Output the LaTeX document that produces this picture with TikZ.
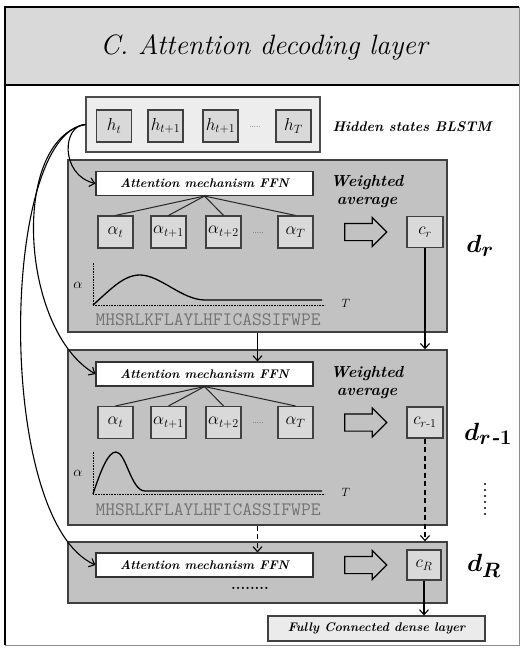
\documentclass[tikz,border=0pt]{standalone}
\usepackage{amsmath}
\usepackage{tikz}
\usetikzlibrary{arrows.meta,shapes.arrows,positioning}

\begin{document}
\begin{tikzpicture}[x=1pt,y=-1pt,>={Straight Barb[length=5pt,width=9pt]},
  ttl/.style={font=\fontsize{28}{32}\selectfont\itshape},
  lbl/.style={font=\fontsize{14}{17}\selectfont\bfseries\itshape},
  wlbl/.style={font=\fontsize{16}{18}\selectfont\bfseries\itshape,align=center},
  dlbl/.style={font=\fontsize{31}{33}\selectfont\bfseries\itshape},
  ffn/.style={draw=black!80,fill=white,line width=1.1pt,minimum width=217pt,
    minimum height=24pt,inner sep=0pt,font=\fontsize{12.5}{14}\selectfont\bfseries\itshape},
  cell/.style={draw=black!75,fill=black!15,line width=1.1pt,minimum width=35pt,
    minimum height=32pt,inner sep=0pt,font=\fontsize{17}{19}\selectfont},
  panel/.style={draw=black!75,fill=black!24,line width=1.4pt,minimum width=379pt,inner sep=0pt},
  fat/.style={single arrow,draw=black,line width=1.2pt,fill=black!24,inner sep=8pt,
    single arrow head extend=6pt,minimum height=42pt},
  seq/.style={font=\fontsize{19}{20}\selectfont\ttfamily,text=black!55},
  conn/.style={line width=1.1pt,->},
  dsh/.style={dash pattern=on 5pt off 3.5pt},
  fork/.style={line width=1pt,black!85},
]

\useasboundingbox (0,0) rectangle (522,648);
\fill[white] (0,0) rectangle (522,648);

% ------------------------------------------------------------------
% frame and title
% ------------------------------------------------------------------
\fill[black!15] (5,7) rectangle (519,85);
\draw[line width=2.5pt] (5,645) -- (5,7) -- (519,7);
\draw[line width=0.8pt,black!45] (519,7) -- (519,645) -- (5,645);
\draw[line width=2.5pt] (5,85) -- (519,85);
\node[ttl] (title) at (264,47) {C. Attention decoding layer};

% ------------------------------------------------------------------
% hidden states
% ------------------------------------------------------------------
\node[draw=black!70,fill=black!7,line width=1.2pt,minimum width=234pt,
  minimum height=55pt,inner sep=0pt] (hs) at (203,124.5) {};
\node[cell] (h1) at (114,126) {$h_t$};
\node[cell] (h2) at (165.5,126) {$h_{t+1}$};
\node[cell] (h3) at (220.5,126) {$h_{t+1}$};
\node[font=\scriptsize] (hdots) at (255,127) {.....};
\node[cell] (h4) at (293.5,126) {$h_T$};
\node[lbl,anchor=west] (hslbl) at (329,127) {Hidden states BLSTM};

% ------------------------------------------------------------------
% panels
% ------------------------------------------------------------------
\node[panel,minimum height=172pt] (pA) at (257.5,246) {};
\node[panel,minimum height=175pt] (pB) at (257.5,437.5) {};
\node[panel,minimum height=61pt] (pC) at (257.5,572.5) {};

% panel d_r
\node[ffn] (ffnA) at (204.5,183.5) {Attention mechanism FFN};
\node[wlbl] (wA) at (367,192) {Weighted\\average};
\node[cell] (aA1) at (115.5,232) {$\alpha_t$};
\node[cell] (aA2) at (168.5,232) {$\alpha_{t+1}$};
\node[cell] (aA3) at (223.5,232) {$\alpha_{t+2}$};
\node[font=\scriptsize] (aAdots) at (258,233) {.....};
\node[cell] (aA4) at (295.5,232) {$\alpha_T$};
\node[fat] (fA) at (361.5,232) {};
\node[cell,minimum width=36pt,minimum height=31pt] (cA) at (425,232) {$c_r$};
\node[dlbl] (dA) at (480,246) {$\boldsymbol{d_r}$};
\draw[fork] (ffnA.south) -- (aA1.north);
\draw[fork] (ffnA.south) -- (aA2.north);
\draw[fork] (ffnA.south) -- (aA3.north);
\draw[fork] (ffnA.south) -- (aA4.north);

\draw[line width=0.6pt,densely dotted] (93,305) -- (93,262);
\draw[line width=0.6pt,densely dotted] (93,305) -- (325,305);
\draw[line width=1.3pt] (93,305) .. controls (112,288) and (124,275) .. (140,275)
  .. controls (160,275) and (182,300) .. (205,300) -- (322,300);
\node[font=\fontsize{15}{16}\selectfont] (alA) at (78,285) {$\alpha$};
\node[font=\fontsize{13}{14}\selectfont] (TA) at (346,303) {$T$};
\node[seq,anchor=west] (sA) at (92,320) {MHSRLKFLAYLHFICASSIFWPE};

% panel d_{r-1}
\node[ffn] (ffnB) at (204.5,374) {Attention mechanism FFN};
\node[wlbl] (wB) at (367,382.5) {Weighted\\average};
\node[cell] (aB1) at (115.5,422.5) {$\alpha_t$};
\node[cell] (aB2) at (168.5,422.5) {$\alpha_{t+1}$};
\node[cell] (aB3) at (223.5,422.5) {$\alpha_{t+2}$};
\node[font=\scriptsize] (aBdots) at (258,423.5) {.....};
\node[cell] (aB4) at (295.5,422.5) {$\alpha_T$};
\node[fat] (fB) at (361.5,422.5) {};
\node[cell,minimum width=36pt,minimum height=31pt] (cB) at (425,422.5) {$c_{r\text{-}1}$};
\node[dlbl] (dB) at (488,434) {$\boldsymbol{d_{r\text{-}1}}$};
\draw[fork] (ffnB.south) -- (aB1.north);
\draw[fork] (ffnB.south) -- (aB2.north);
\draw[fork] (ffnB.south) -- (aB3.north);
\draw[fork] (ffnB.south) -- (aB4.north);

\draw[line width=0.6pt,densely dotted] (93,494) -- (93,452);
\draw[line width=0.6pt,densely dotted] (93,494) -- (325,494);
\draw[line width=1.3pt] (93,494) .. controls (101,470) and (108,452) .. (116,452)
  .. controls (126,452) and (131,491) .. (145,491) -- (322,491);
\node[font=\fontsize{15}{16}\selectfont] (alB) at (78,473) {$\alpha$};
\node[font=\fontsize{13}{14}\selectfont] (TB) at (346,492) {$T$};
\node[seq,anchor=west] (sB) at (92,510) {MHSRLKFLAYLHFICASSIFWPE};
\draw[line width=2.4pt,dash pattern=on 0pt off 6pt,line cap=round] (485,484) -- (485,520);

% panel d_R
\node[ffn] (ffnC) at (204.5,565) {Attention mechanism FFN};
\node[fat] (fC) at (361.5,565) {};
\node[cell,minimum width=34pt,minimum height=30pt] (cC) at (424,565) {$c_R$};
\node[dlbl] (dC) at (484,566) {$\boldsymbol{d_R}$};
\node[font=\bfseries\fontsize{15}{16}\selectfont] (pdots) at (250,588) {........};

\node[draw=black!75,fill=black!8,line width=1.1pt,minimum width=217pt,minimum height=25pt,
  inner sep=0pt,font=\fontsize{12.5}{14}\selectfont\bfseries\itshape] (fc) at (376.5,628.5)
  {Fully Connected dense layer};

% ------------------------------------------------------------------
% connectors
% ------------------------------------------------------------------
\draw[conn] (hs.west) .. controls (62,125) and (60,175) .. (ffnA.west);
\draw[conn] (hs.west) .. controls (10,140) and (20,330) .. (ffnB.west);
\draw[conn] (hs.west) .. controls (0,135) and (-5,520) .. (ffnC.west);

\draw[conn] (cA.south) -- (cA.south |- pB.north);
\draw[conn] (pA.south) -- (pA.south |- ffnB.north);
\draw[conn,dsh] (cB.south) -- (cB.south |- pC.north);
\draw[conn,dsh] (pB.south) -- (pB.south |- ffnC.north);
\draw[conn] (cC.south) -- (cC.south |- fc.north);

\end{tikzpicture}
\end{document}
